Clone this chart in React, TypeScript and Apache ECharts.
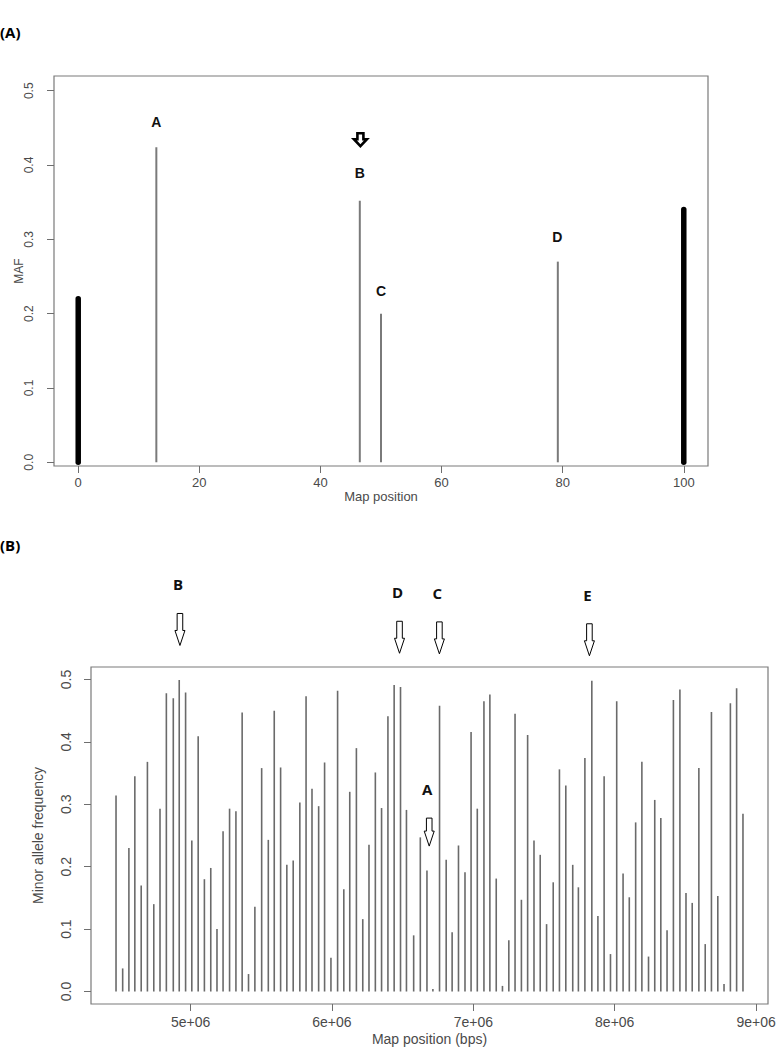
import React, { useEffect, useRef } from "react";
import * as echarts from "echarts";

// ---------- Panel (A) data ----------
const thinPosA = [12.9, 46.5, 50.0, 79.2];
const thinMafA = [0.424, 0.352, 0.2, 0.27];
const thickPosA = [0, 100];
const thickMafA = [0.22, 0.34];
const xTicksA = [0, 20, 40, 60, 80, 100];
const yTicksA = [0, 0.1, 0.2, 0.3, 0.4, 0.5];
const labelTextA = ["A", "B", "C", "D"];
const labelPosA = [12.9, 46.5, 50.0, 79.1];
const labelMafA = [0.458, 0.389, 0.231, 0.303];
const arrowPosA = [46.6];
const arrowTipA = [0.424];

// ---------- Panel (B) data ----------
const positionsB = [
  4473000, 4520000, 4564000, 4606000, 4651000, 4695000, 4740000, 4784000, 4829000, 4878000,
  4920000, 4965000, 5009000, 5054000, 5098000, 5143000, 5187000, 5230000, 5276000, 5321000,
  5365000, 5410000, 5455000, 5503000, 5550000, 5592000, 5637000, 5681000, 5726000, 5773000,
  5817000, 5859000, 5906000, 5948000, 5993000, 6040000, 6084000, 6126000, 6173000, 6218000,
  6262000, 6307000, 6351000, 6396000, 6440000, 6485000, 6527000, 6578000, 6625000, 6672000,
  6714000, 6761000, 6808000, 6850000, 6895000, 6941000, 6984000, 7028000, 7075000, 7117000,
  7162000, 7206000, 7251000, 7295000, 7340000, 7384000, 7429000, 7473000, 7518000, 7565000,
  7609000, 7654000, 7703000, 7743000, 7789000, 7838000, 7881000, 7925000, 7970000, 8014000,
  8059000, 8103000, 8148000, 8192000, 8239000, 8283000, 8326000, 8370000, 8415000, 8461000,
  8504000, 8548000, 8595000, 8640000, 8684000, 8729000, 8773000, 8818000, 8862000, 8907000,
];
const mafB = [
  0.314, 0.037, 0.23, 0.345, 0.17, 0.368, 0.14, 0.293, 0.478, 0.47,
  0.499, 0.479, 0.242, 0.409, 0.18, 0.198, 0.1, 0.257, 0.293, 0.289,
  0.447, 0.028, 0.136, 0.358, 0.243, 0.45, 0.359, 0.203, 0.21, 0.303,
  0.473, 0.325, 0.297, 0.367, 0.054, 0.482, 0.164, 0.32, 0.39, 0.116,
  0.235, 0.351, 0.294, 0.441, 0.491, 0.488, 0.291, 0.09, 0.247, 0.194,
  0.004, 0.458, 0.211, 0.095, 0.234, 0.191, 0.416, 0.293, 0.465, 0.476,
  0.181, 0.009, 0.082, 0.445, 0.147, 0.411, 0.242, 0.219, 0.108, 0.175,
  0.356, 0.33, 0.203, 0.167, 0.374, 0.498, 0.121, 0.345, 0.06, 0.465,
  0.189, 0.151, 0.271, 0.368, 0.056, 0.307, 0.278, 0.098, 0.467, 0.484,
  0.158, 0.142, 0.358, 0.076, 0.448, 0.153, 0.012, 0.462, 0.486, 0.285,
];
const xTicksB = [5000000, 6000000, 7000000, 8000000, 9000000];
const yTicksB = [0, 0.1, 0.2, 0.3, 0.4, 0.5];
const annotTextB = ["B", "D", "C", "E", "A"];
const annotPosB = [4925000, 6478000, 6760000, 7821000, 6688000];
const annotTipB = [0.5545, 0.542, 0.541, 0.538, 0.233];

// ---------- styles ----------
const AXIS_GREY = "#6e6e6e";
const TEXT_GREY = "#4a4a4a";
const BAR_GREY = "#6a6a6a";
const SANS = "'Liberation Sans', Arial, sans-serif";
const BOLD_SANS = "'Open Sans', 'Liberation Sans', sans-serif";

function stemRenderer(width: number, color: string, cap: string) {
  return (params: any, api: any) => {
    const x = api.value(0);
    const y = api.value(1);
    const p0 = api.coord([x, 0]);
    const p1 = api.coord([x, y]);
    return {
      type: "line",
      shape: { x1: p0[0], y1: p0[1], x2: p1[0], y2: p1[1] },
      style: { stroke: color, lineWidth: width, lineCap: cap },
    };
  };
}

function hollowArrow(tx: number, ty: number, len: number, shaftHalf: number, headHalf: number, headLen: number) {
  return [
    [tx - shaftHalf, ty - len],
    [tx + shaftHalf, ty - len],
    [tx + shaftHalf, ty - headLen],
    [tx + headHalf, ty - headLen],
    [tx, ty],
    [tx - headHalf, ty - headLen],
    [tx - shaftHalf, ty - headLen],
  ];
}

export default function App() {
  const ref = useRef<HTMLDivElement>(null);

  useEffect(() => {
    if (!ref.current) return;
    const chart = echarts.init(ref.current, null, { renderer: "svg" });

    const axisCommon = {
      axisLine: { show: false, onZero: false },
      splitLine: { show: false },
      axisTick: { show: true, length: 7, lineStyle: { color: AXIS_GREY, width: 1 } },
    };

    const option: any = {
      animation: false,
      backgroundColor: "#ffffff",
      grid: [
        {
          left: 54, right: 72, top: 76, bottom: 584,
          containLabel: false, outerBoundsMode: "none",
          show: true, borderColor: "#7a7a7a", borderWidth: 1.2, backgroundColor: "transparent",
        },
        {
          left: 91, right: 12, top: 667, bottom: 46,
          containLabel: false, outerBoundsMode: "none",
          show: true, borderColor: "#7a7a7a", borderWidth: 1.2, backgroundColor: "transparent",
        },
      ],
      xAxis: [
        {
          ...axisCommon,
          type: "value",
          gridIndex: 0,
          min: -4,
          max: 104,
          axisTick: { ...axisCommon.axisTick, customValues: xTicksA },
          axisLabel: { customValues: xTicksA, color: TEXT_GREY, fontSize: 13, fontFamily: SANS, margin: 10 },
          name: "Map position",
          nameLocation: "middle",
          nameGap: 24,
          nameMoveOverlap: false,
          nameTextStyle: { color: TEXT_GREY, fontSize: 13, fontFamily: SANS },
        },
        {
          ...axisCommon,
          type: "value",
          gridIndex: 1,
          min: 4296000,
          max: 9084000,
          axisTick: { ...axisCommon.axisTick, customValues: xTicksB },
          axisLabel: {
            customValues: xTicksB,
            color: TEXT_GREY,
            fontSize: 14,
            fontFamily: SANS,
            margin: 11,
            formatter: (v: number) => `${Math.round(v / 1000000)}e+06`,
          },
          name: "Map position (bps)",
          nameLocation: "middle",
          nameGap: 28,
          nameMoveOverlap: false,
          nameTextStyle: { color: TEXT_GREY, fontSize: 14, fontFamily: SANS },
        },
      ],
      yAxis: [
        {
          ...axisCommon,
          type: "value",
          gridIndex: 0,
          min: -0.005,
          max: 0.5198,
          axisTick: { ...axisCommon.axisTick, customValues: yTicksA },
          axisLabel: {
            customValues: yTicksA,
            color: TEXT_GREY,
            fontSize: 12,
            fontFamily: SANS,
            rotate: 90,
            margin: 19,
            formatter: (v: number) => v.toFixed(1),
          },
          name: "MAF",
          nameLocation: "middle",
          nameGap: 29,
          nameMoveOverlap: false,
          nameTextStyle: { color: TEXT_GREY, fontSize: 12, fontFamily: SANS },
        },
        {
          ...axisCommon,
          type: "value",
          gridIndex: 1,
          min: -0.02,
          max: 0.52,
          axisTick: { ...axisCommon.axisTick, customValues: yTicksB },
          axisLabel: {
            customValues: yTicksB,
            color: TEXT_GREY,
            fontSize: 14,
            fontFamily: SANS,
            rotate: 90,
            margin: 18,
            formatter: (v: number) => v.toFixed(1),
          },
          name: "Minor allele frequency",
          nameLocation: "middle",
          nameGap: 46,
          nameMoveOverlap: false,
          nameTextStyle: { color: TEXT_GREY, fontSize: 14, fontFamily: SANS },
        },
      ],
      series: [
        {
          type: "custom",
          xAxisIndex: 0,
          yAxisIndex: 0,
          clip: false,
          renderItem: stemRenderer(2, "#7a7a7a", "butt"),
          data: thinPosA.map((x, i) => [x, thinMafA[i]]),
        },
        {
          type: "custom",
          xAxisIndex: 0,
          yAxisIndex: 0,
          clip: false,
          renderItem: stemRenderer(5.5, "#000000", "round"),
          data: thickPosA.map((x, i) => [x, thickMafA[i]]),
        },
        {
          type: "custom",
          xAxisIndex: 0,
          yAxisIndex: 0,
          clip: false,
          renderItem: (params: any, api: any) => {
            const p = api.coord([api.value(0), api.value(1)]);
            return {
              type: "text",
              x: p[0],
              y: p[1],
              style: {
                text: labelTextA[params.dataIndex],
                fontSize: 14,
                fontWeight: "bold",
                fontFamily: SANS,
                fill: "#111",
                align: "center",
                verticalAlign: "middle",
              },
            };
          },
          data: labelPosA.map((x, i) => [x, labelMafA[i]]),
        },
        {
          type: "custom",
          xAxisIndex: 0,
          yAxisIndex: 0,
          clip: false,
          renderItem: (params: any, api: any) => {
            const p = api.coord([api.value(0), api.value(1)]);
            return {
              type: "polygon",
              shape: { points: hollowArrow(p[0], p[1] - 1, 13, 3, 6.5, 7) },
              style: { fill: "#ffffff", stroke: "#000000", lineWidth: 2.6, lineJoin: "miter" },
            };
          },
          data: arrowPosA.map((x, i) => [x, arrowTipA[i]]),
        },
        {
          type: "custom",
          xAxisIndex: 1,
          yAxisIndex: 1,
          clip: false,
          renderItem: stemRenderer(1.6, BAR_GREY, "butt"),
          data: positionsB.map((x, i) => [x, mafB[i]]),
        },
        {
          type: "custom",
          xAxisIndex: 1,
          yAxisIndex: 1,
          clip: false,
          renderItem: (params: any, api: any) => {
            const p = api.coord([api.value(0), api.value(1)]);
            const i = params.dataIndex;
            const len = annotTextB[i] === "A" ? 28 : 32;
            return {
              type: "group",
              children: [
                {
                  type: "polygon",
                  shape: { points: hollowArrow(p[0], p[1], len, 2.8, 5, 15) },
                  style: { fill: "#ffffff", stroke: "#000000", lineWidth: 1 },
                },
                {
                  type: "text",
                  x: p[0] - 2,
                  y: p[1] - len - 29,
                  style: {
                    text: annotTextB[i],
                    fontSize: 15,
                    fontWeight: "bold",
                    fontFamily: BOLD_SANS,
                    fill: "#111",
                    align: "center",
                    verticalAlign: "middle",
                  },
                },
              ],
            };
          },
          data: annotPosB.map((x, i) => [x, annotTipB[i]]),
        },
      ],
      graphic: [
        {
          type: "text",
          left: 0,
          top: 24,
          style: { text: "(A)", fontSize: 15, fontWeight: "bold", fontFamily: BOLD_SANS, fill: "#000" },
        },
        {
          type: "text",
          left: 0,
          top: 537,
          style: { text: "(B)", fontSize: 15, fontWeight: "bold", fontFamily: BOLD_SANS, fill: "#000" },
        },
      ],
    };

    chart.setOption(option);
    return () => chart.dispose();
  }, []);

  return (
    <div
      ref={ref}
      style={{ position: "fixed", left: 0, top: 0, width: 780, height: 1050, background: "#fff" }}
    />
  );
}
